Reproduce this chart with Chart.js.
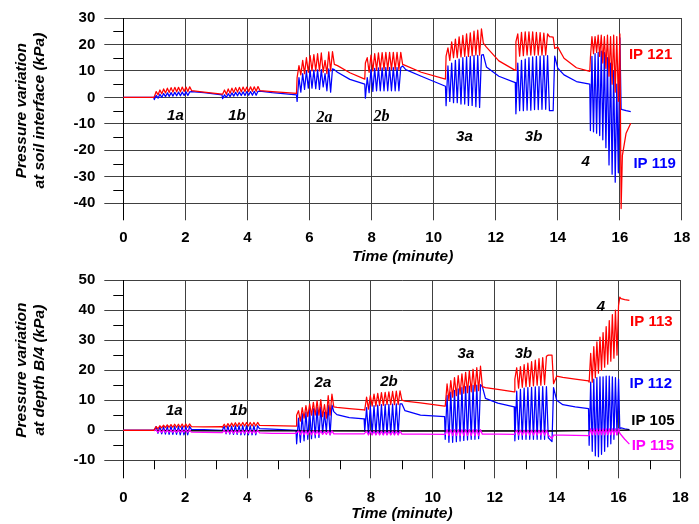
<!DOCTYPE html>
<html lang="en">
<head>
<meta charset="UTF-8">
<title>Pressure variation</title>
<script src="https://cdn.jsdelivr.net/npm/chart.js@4.4.0/dist/chart.umd.min.js"></script>
<style>
  body { margin: 0; background: #fff; }
  #wrap { position: relative; width: 699px; height: 524px; }
  canvas { position: absolute; left: 0; }
</style>
</head>
<body>
<div id="wrap">
  <canvas id="topChart" width="699" height="266" style="top:0"></canvas>
  <canvas id="bottomChart" width="699" height="262" style="top:262px"></canvas>
</div>
<script>
// time axis shared by every trace (minutes)
const minutes = [
  0, 0.98,
  1.00, 1.06, 1.12, 1.18, 1.24, 1.30, 1.36, 1.42, 1.48, 1.54, 1.60, 1.66, 1.72, 1.78, 1.84, 1.90, 1.96, 2.02, 2.08, 2.14, 2.20,
  2.60, 3.18,
  3.20, 3.26, 3.32, 3.38, 3.44, 3.50, 3.56, 3.62, 3.68, 3.74, 3.80, 3.86, 3.92, 3.98, 4.04, 4.10, 4.16, 4.22, 4.28, 4.34, 4.40,
  4.80, 5.58,
  5.60, 5.66, 5.72, 5.78, 5.84, 5.90, 5.96, 6.02, 6.08, 6.14, 6.20, 6.26, 6.32, 6.38, 6.44, 6.50, 6.56, 6.62, 6.68, 6.74, 6.80,
  6.90, 7.30, 7.78,
  7.80, 7.86, 7.92, 7.98, 8.04, 8.10, 8.16, 8.22, 8.28, 8.34, 8.40, 8.46, 8.52, 8.58, 8.64, 8.70, 8.76, 8.82, 8.88, 8.94, 9.00,
  9.10, 9.60, 10.38,
  10.40, 10.46, 10.52, 10.58, 10.64, 10.70, 10.76, 10.82, 10.88, 10.94, 11.00, 11.06, 11.12, 11.18, 11.24, 11.30, 11.36, 11.42, 11.48, 11.54, 11.60,
  11.70, 12.10, 12.63,
  12.65, 12.71, 12.77, 12.83, 12.89, 12.95, 13.01, 13.07, 13.13, 13.19, 13.25, 13.31, 13.37, 13.43, 13.49, 13.55, 13.61, 13.67, 13.73,
  13.85, 13.90, 14.00, 14.20, 14.60, 15.03,
  15.05, 15.10, 15.15, 15.20, 15.25, 15.30, 15.35, 15.40, 15.45, 15.50, 15.55, 15.60, 15.65, 15.70, 15.75, 15.80, 15.85, 15.90, 15.95, 16.00,
  16.04, 16.08, 16.20, 16.35
];

// soil interface (kPa)
const ip121 = [
  0, 0,
  0.3, 2.2, 1.0, 2.8, 1.4, 3.2, 1.7, 3.5, 1.9, 3.7, 2.0, 3.8, 2.1, 3.8, 2.1, 3.9, 2.2, 3.9, 2.2, 4.0, 2.6,
  2.0, 1.2,
  1.2, 2.8, 1.2, 3.2, 1.6, 3.5, 1.9, 3.7, 2.0, 3.8, 2.1, 3.9, 2.2, 3.9, 2.2, 4.0, 2.3, 4.0, 2.3, 4.1, 2.6,
  2.2, 1.5,
  7.5, 12.0, 8.5, 14.0, 9.0, 15.0, 9.5, 15.8, 10.0, 16.2, 10.0, 16.5, 10.0, 16.8, 9.5, 14.0, 9.0, 17.2, 10.0, 17.3, 12.5,
  12.0, 9.3, 6.9,
  13.0, 15.0, 9.5, 16.0, 10.0, 16.5, 10.3, 16.8, 10.5, 16.9, 10.5, 17.0, 10.5, 17.0, 10.5, 17.0, 10.5, 17.0, 10.5, 17.0, 12.5,
  12.0, 9.5, 6.9,
  15.6, 18.7, 14.0, 21.0, 15.0, 22.0, 15.0, 22.9, 15.3, 23.4, 15.5, 24.0, 15.5, 24.4, 15.8, 25.0, 16.0, 25.4, 16.0, 25.9, 20.5,
  19.0, 13.8, 10.2,
  21.0, 24.0, 15.6, 24.6, 15.8, 24.8, 16.0, 24.8, 16.0, 24.8, 16.0, 24.6, 16.0, 24.5, 16.0, 24.3, 16.0, 24.0, 23.0,
  22.8, 18.5, 19.0, 14.8, 11.2, 9.8,
  15.0, 23.0, 16.5, 23.0, 17.0, 23.5, 15.5, 23.5, 13.0, 23.0, 11.0, 23.5, 8.0, 23.0, 5.0, 23.5, 2.0, 23.0, -1.5, 24.0,
  -42.0, -22.0, -13.5, -9.8
];
const ip119 = [
  0, 0,
  -0.8, 0.8, -0.3, 1.2, 0.0, 1.5, 0.3, 1.7, 0.4, 1.8, 0.5, 1.9, 0.6, 2.0, 0.6, 2.0, 0.7, 2.1, 0.7, 2.1, 2.2,
  1.8, 1.0,
  -0.5, 1.0, 0.0, 1.4, 0.3, 1.7, 0.5, 1.9, 0.6, 2.0, 0.7, 2.1, 0.7, 2.2, 0.8, 2.2, 0.8, 2.3, 0.8, 2.3, 2.4,
  1.8, 1.0,
  -1.5, 7.5, 2.0, 9.0, 3.0, 10.0, 3.5, 10.2, 3.5, 10.3, 3.3, 10.4, 3.0, 10.5, 4.0, 9.0, 2.5, 10.8, 2.0, 10.8, 10.5,
  9.5, 6.8, 5.0,
  -0.3, 7.5, 1.8, 10.5, 2.3, 11.0, 2.5, 11.2, 2.5, 11.2, 2.5, 11.3, 2.5, 11.3, 2.5, 11.3, 2.5, 11.3, 2.5, 11.3, 11.9,
  10.5, 8.0, 4.2,
  -3.1, 11.9, -1.5, 13.0, -2.0, 14.0, -2.0, 14.5, -2.5, 15.0, -2.5, 15.3, -3.0, 15.5, -3.0, 15.8, -3.5, 15.9, -3.8, 16.0, 16.2,
  11.5, 8.0, 5.6,
  -6.2, 13.0, -5.0, 14.0, -5.0, 14.5, -4.8, 15.0, -4.8, 15.3, -4.6, 15.5, -4.6, 15.6, -4.5, 15.8, -4.5, 15.8, -5.0,
  -5.0, 15.6, 11.0, 8.5, 6.0, 5.0,
  -12.5, 15.5, -13.0, 16.5, -13.5, 17.0, -14.4, 17.5, -16.0, 17.0, -19.0, 15.0, -25.5, 13.0, -29.0, 10.0, -32.0, 5.0, -28.5, 22.5,
  -4.4, -4.6, -5.0, -5.4
];

// depth B/4 (kPa)
const ip113 = [
  0, 0,
  0.2, 1.2, 0.5, 1.5, 0.8, 1.7, 0.9, 1.8, 1.0, 1.9, 1.0, 2.0, 1.0, 2.0, 1.0, 2.1, 1.0, 2.1, 1.0, 2.1, 1.2,
  1.1, 1.2,
  1.0, 2.0, 1.0, 2.2, 1.2, 2.4, 1.3, 2.5, 1.3, 2.5, 1.4, 2.6, 1.4, 2.6, 1.4, 2.6, 1.4, 2.6, 1.4, 2.6, 1.6,
  1.5, 1.4,
  5.0, 6.5, 3.0, 7.5, 4.0, 8.2, 4.5, 8.8, 5.0, 9.3, 5.0, 9.8, 5.0, 10.2, 4.5, 8.5, 4.0, 11.5, 5.0, 12.0, 7.8,
  7.6, 7.2, 6.8,
  6.7, 11.0, 7.0, 11.5, 8.0, 12.0, 8.0, 12.3, 8.3, 12.5, 8.3, 12.6, 8.5, 12.8, 8.5, 12.9, 8.5, 13.0, 8.5, 13.1, 10.0,
  9.7, 9.1, 8.0,
  8.0, 15.4, 10.0, 16.5, 11.0, 17.5, 11.5, 18.2, 12.0, 18.8, 12.3, 19.3, 12.5, 19.8, 12.8, 20.3, 13.0, 20.8, 13.2, 21.3, 14.5,
  14.2, 13.6, 12.8,
  17.0, 20.8, 14.0, 21.2, 14.3, 21.8, 14.5, 22.3, 14.6, 22.8, 14.8, 23.3, 15.0, 23.8, 15.0, 24.2, 15.2, 24.6, 25.0,
  25.0, 15.5, 18.0, 17.6, 17.0, 16.4,
  16.0, 25.6, 16.0, 27.8, 17.5, 29.4, 19.0, 31.0, 20.0, 32.5, 21.0, 34.5, 22.0, 36.5, 23.0, 38.5, 24.0, 40.0, 25.0, 41.5,
  44.3, 43.8, 43.5, 43.2
];
const ip112 = [
  0, 0,
  0.0, 1.2, -1.0, 1.2, -1.2, 1.2, -1.3, 1.2, -1.4, 1.3, -1.4, 1.3, -1.4, 1.3, -1.5, 1.3, -1.5, 1.3, -1.5, 1.3, 0.3,
  0.2, 0.0,
  0.0, 1.3, -1.2, 1.4, -1.3, 1.4, -1.4, 1.5, -1.4, 1.5, -1.5, 1.5, -1.5, 1.5, -1.5, 1.5, -1.5, 1.5, -1.5, 1.5, 0.5,
  0.4, 0.0,
  -4.5, 4.0, -4.0, 5.5, -3.5, 6.0, -3.0, 6.8, -2.8, 7.2, -2.5, 7.6, -2.4, 7.8, -1.0, 6.0, -0.5, 8.4, -1.5, 8.4, 6.2,
  5.2, 4.2, 3.8,
  -0.3, 7.5, -1.2, 8.0, -1.3, 8.2, -1.4, 8.4, -1.4, 8.5, -1.4, 8.6, -1.4, 8.6, -1.4, 8.7, -1.4, 8.8, -1.4, 8.8, 8.8,
  6.5, 5.0, 4.5,
  -3.0, 11.6, -4.0, 12.7, -4.0, 13.3, -3.8, 13.8, -3.6, 14.2, -3.4, 14.5, -3.2, 14.7, -3.0, 14.9, -3.0, 15.0, -2.8, 15.2, 14.5,
  10.6, 9.0, 7.8,
  -3.5, 13.0, -3.0, 13.6, -3.0, 14.0, -3.0, 14.2, -3.0, 14.3, -3.0, 14.4, -3.0, 14.5, -3.0, 14.5, -3.0, 14.5, -2.5,
  -3.8, 14.2, 10.0, 8.5, 7.8, 7.2,
  -5.0, 16.0, -7.0, 17.0, -8.5, 17.5, -8.8, 17.8, -8.0, 17.8, -7.0, 18.0, -5.5, 18.0, -4.5, 17.8, -3.0, 17.5, -1.5, 17.0,
  0.5, 0.8, 0.5, 0.2
];
const ip115 = [
  0, 0,
  -0.1, 0.1, -0.7, 0.1, -0.7, 0.1, -0.7, 0.1, -0.7, 0.1, -0.7, 0.1, -0.7, 0.1, -0.7, 0.1, -0.7, 0.1, -0.7, 0.1, -0.6,
  -0.7, -0.8,
  -0.8, 0.0, -1.0, 0.0, -1.0, 0.0, -1.0, 0.0, -1.0, 0.0, -1.0, 0.0, -1.0, 0.0, -1.0, 0.0, -1.0, 0.0, -1.0, 0.0, -0.9,
  -1.0, -1.0,
  -1.0, -0.2, -1.5, -0.2, -1.5, -0.2, -1.5, -0.2, -1.5, -0.2, -1.5, -0.2, -1.5, -0.2, -1.4, -0.4, -1.4, -0.2, -1.5, -0.2, -1.2,
  -1.2, -1.2, -1.2,
  -1.2, -0.3, -1.6, -0.3, -1.6, -0.3, -1.6, -0.3, -1.6, -0.3, -1.6, -0.3, -1.6, -0.3, -1.6, -0.3, -1.6, -0.3, -1.6, -0.3, -1.3,
  -1.3, -1.3, -1.4,
  -1.4, 0.2, -1.8, 0.2, -1.8, 0.2, -1.8, 0.2, -1.8, 0.2, -1.8, 0.2, -1.8, 0.2, -1.8, 0.2, -1.8, 0.2, -1.8, 0.2, -1.3,
  -1.3, -1.3, -1.4,
  -1.4, 0.0, -1.6, 0.0, -1.6, 0.0, -1.6, 0.0, -1.6, 0.0, -1.6, 0.0, -1.6, 0.0, -1.6, 0.0, -1.6, 0.0, -1.6,
  -2.8, -1.6, -1.6, -1.6, -1.7, -1.8,
  -1.8, 0.5, -1.5, 0.5, -1.5, 0.5, -1.5, 0.5, -1.5, 0.5, -1.5, 0.5, -1.5, 0.5, -1.5, 0.5, -1.5, 0.5, -1.5, 0.5,
  -1.0, -1.5, -3.0, -4.6
];
// IP 105 stays on the zero line
const ip105Minutes = [0, 1.0, 2.2, 5.6, 9.0, 13.8, 16.0, 16.35];
const ip105 = [0, 0, -0.2, -0.2, -0.3, -0.3, 0.0, 0.1];

// ticks
const timeTicks = [0, 2, 4, 6, 8, 10, 12, 14, 16, 18];
const timeMinor = [1, 3, 5, 7, 9, 11, 13, 15, 17];
const topTicks = [-40, -30, -20, -10, 0, 10, 20, 30];
const topMinor = [-35, -25, -15, -5, 5, 15, 25];
const bottomTicks = [-10, 0, 10, 20, 30, 40, 50];
const bottomMinor = [-5, 5, 15, 25, 35, 45];

const FONT = "Arial, 'Liberation Sans', Helvetica, sans-serif";
const SERIF = "'Liberation Serif', 'Times New Roman', serif";
const GRID = '#404040';
const caseFont = 'italic bold 15px ' + FONT;
const caseSerif = 'italic bold 16px ' + SERIF;
const ipFont = 'bold 15px ' + FONT;

const topLabels = [
  {text: '1a', x: 1.68, y: -6.9, font: caseFont, color: '#000'},
  {text: '1b', x: 3.66, y: -6.9, font: caseFont, color: '#000'},
  {text: '2a', x: 6.48, y: -7.6, font: caseSerif, color: '#000'},
  {text: '2b', x: 8.32, y: -7.5, font: caseSerif, color: '#000'},
  {text: '3a', x: 10.99, y: -15, font: caseFont, color: '#000'},
  {text: '3b', x: 13.22, y: -15, font: caseFont, color: '#000'},
  {text: '4', x: 14.9, y: -24.4, font: caseFont, color: '#000'},
  {text: 'IP 121', x: 16.99, y: 15.9, font: ipFont, color: '#ff0000'},
  {text: 'IP 119', x: 17.12, y: -25, font: ipFont, color: '#0000ff'}
];
const bottomLabels = [
  {text: '1a', x: 1.65, y: 6.4, font: caseFont, color: '#000'},
  {text: '1b', x: 3.72, y: 6.4, font: caseFont, color: '#000'},
  {text: '2a', x: 6.45, y: 15.8, font: caseFont, color: '#000'},
  {text: '2b', x: 8.58, y: 16.1, font: caseFont, color: '#000'},
  {text: '3a', x: 11.07, y: 25.5, font: caseFont, color: '#000'},
  {text: '3b', x: 12.93, y: 25.5, font: caseFont, color: '#000'},
  {text: '4', x: 15.43, y: 41.2, font: caseFont, color: '#000'},
  {text: 'IP 113', x: 17.06, y: 36.1, font: ipFont, color: '#ff0000'},
  {text: 'IP 112', x: 17.04, y: 15.3, font: ipFont, color: '#0000ff'},
  {text: 'IP 105', x: 17.11, y: 3.1, font: ipFont, color: '#000'},
  {text: 'IP 115', x: 17.11, y: -5.1, font: ipFont, color: '#ff00ff'}
];

function points(times, vals) {
  if (times.length !== vals.length) console.log('length mismatch', times.length, vals.length);
  return times.map((t, i) => ({x: t, y: vals[i]}));
}

function trace(vals, color, times) {
  return {
    data: points(times || minutes, vals),
    borderColor: color,
    borderWidth: 1.25,
    pointRadius: 0,
    tension: 0,
    borderJoinStyle: 'round',
    clip: false
  };
}

// minor tick marks and the in-plot texts
function decorations(labels, minorY, minorX) {
  return {
    id: 'decorations',
    afterDraw(chart) {
      const {ctx, scales: {x, y}} = chart;
      ctx.save();
      ctx.strokeStyle = '#000';
      ctx.lineWidth = 1;
      ctx.beginPath();
      minorY.forEach(v => {
        const py = Math.round(y.getPixelForValue(v)) + 0.5;
        ctx.moveTo(x.left - 10, py);
        ctx.lineTo(x.left, py);
      });
      minorX.forEach(v => {
        const px = Math.round(x.getPixelForValue(v)) + 0.5;
        ctx.moveTo(px, y.bottom);
        ctx.lineTo(px, y.bottom + 9);
      });
      ctx.stroke();
      ctx.textAlign = 'center';
      ctx.textBaseline = 'middle';
      labels.forEach(l => {
        ctx.font = l.font;
        ctx.fillStyle = l.color;
        ctx.fillText(l.text, x.getPixelForValue(l.x), y.getPixelForValue(l.y));
      });
      ctx.restore();
    }
  };
}

function makeChart(id, c) {
  const tickFont = {family: FONT, size: 15, weight: 'bold'};
  const titleFont = {family: FONT, size: 15.5, weight: 'bold', style: 'italic', lineHeight: '18px'};
  const zeroBlack = ctx => (ctx.tick && ctx.tick.value === 0 ? '#000' : GRID);
  return new Chart(document.getElementById(id), {
    type: 'line',
    data: {datasets: c.datasets},
    options: {
      responsive: false,
      animation: false,
      layout: {padding: c.padding},
      plugins: {legend: {display: false}, tooltip: {enabled: false}},
      scales: {
        x: {
          type: 'linear', min: 0, max: 18,
          afterBuildTicks: s => { s.ticks = timeTicks.map(v => ({value: v})); },
          afterFit: s => { s.height = c.xHeight; },
          grid: {color: zeroBlack, tickColor: zeroBlack, tickLength: c.xTickLength, lineWidth: 1},
          border: {color: GRID, width: 1},
          ticks: {font: tickFont, color: '#000', padding: c.xTickPadding, maxRotation: 0, autoSkip: false},
          title: {display: true, text: 'Time (minute)', font: titleFont, color: '#000', padding: 0}
        },
        y: {
          min: c.yTicks[0], max: c.yTicks[c.yTicks.length - 1],
          afterBuildTicks: s => { s.ticks = c.yTicks.map(v => ({value: v})); },
          afterFit: s => { s.width = 123.3; },
          grid: {color: GRID, tickColor: GRID, tickLength: 19, lineWidth: 1},
          border: {color: '#000', width: 1},
          ticks: {font: tickFont, color: '#000', padding: 9, autoSkip: false},
          title: {display: true, text: c.yTitle, font: titleFont, color: '#000', padding: {top: 13, bottom: 0}}
        }
      }
    },
    plugins: [decorations(c.labels, c.minorY, c.minorX)]
  });
}

makeChart('topChart', {
  datasets: [trace(ip121, '#ff0000'), trace(ip119, '#0000ff')],
  padding: {top: 16.7, right: 10.4, bottom: 0, left: 0},
  xHeight: 62.7, xTickLength: 17, xTickPadding: 8.7,
  yTicks: topTicks,
  yTitle: ['Pressure variation', 'at soil interface (kPa)'],
  labels: topLabels, minorY: topMinor, minorX: []
});

makeChart('bottomChart', {
  datasets: [
    trace(ip113, '#ff0000'),
    trace(ip115, '#ff00ff'),
    trace(ip105, '#000000', ip105Minutes),
    trace(ip112, '#0000ff')
  ],
  padding: {top: 12.7, right: 10.4, bottom: 1.3, left: 0},
  xHeight: 62.4, xTickLength: 18, xTickPadding: 10.2,
  yTicks: bottomTicks,
  yTitle: ['Pressure variation', 'at depth B/4 (kPa)'],
  labels: bottomLabels, minorY: bottomMinor, minorX: timeMinor
});
</script>
</body>
</html>
